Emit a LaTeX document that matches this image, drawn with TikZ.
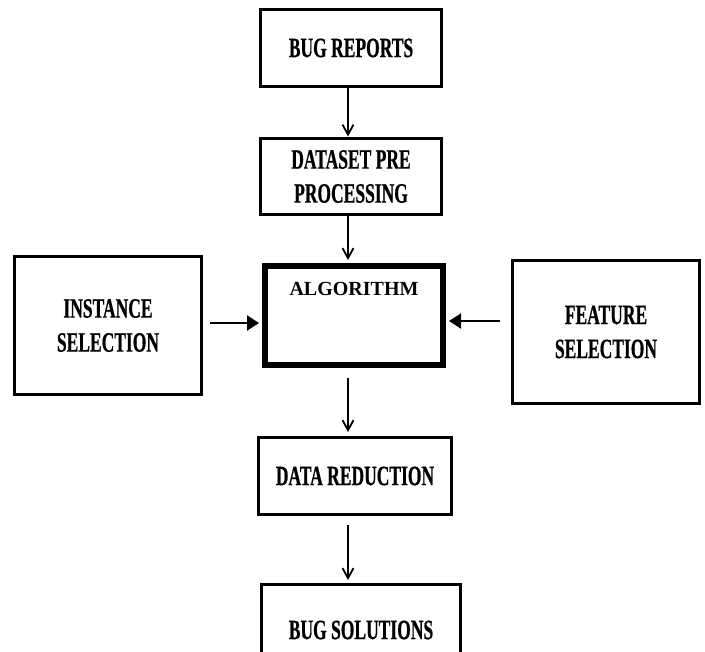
\documentclass[tikz,border=0pt]{standalone}
\usepackage{fontspec}
\setmainfont{Liberation Serif}
\newfontfamily\condfont{Liberation Serif Bold}[FakeStretch=0.625,FakeBold=0.6]
\usetikzlibrary{arrows.meta}
\tikzset{
  box/.style={draw, line width=3pt, inner sep=0pt, align=center,
    font=\condfont\fontsize{28}{34}\selectfont},
  bigbox/.style={draw, line width=6pt, inner sep=0pt},
  downarr/.style={line width=1.8pt, -{Straight Barb[length=10pt,width=11pt,line width=1.8pt]}},
  sidearr/.style={line width=2pt, -{Triangle[length=12pt,width=15pt]}}
}
\begin{document}
\begin{tikzpicture}[x=1pt,y=-1pt]
\useasboundingbox (0,0) rectangle (705,652);
\clip (0,0) rectangle (705,652);
\node[box, minimum width=181pt, minimum height=77pt] (br) at (351,48) {BUG REPORTS};
\node[box, minimum width=181pt, minimum height=76pt] (ds) at (351,176.5) {DATASET PRE\\PROCESSING};
\node[bigbox, minimum width=178pt, minimum height=99pt] (alg) at (354,315.5) {};
\node[anchor=base, font=\bfseries\fontsize{20}{24}\selectfont] (algt) at (354,296) {ALGORITHM};
\node[box, minimum width=187pt, minimum height=138pt] (ins) at (108,325.5) {INSTANCE\\SELECTION};
\node[box, minimum width=187pt, minimum height=143pt] (fea) at (606,332) {FEATURE\\SELECTION};
\node[box, minimum width=193pt, minimum height=77pt] (dr) at (355,476) {DATA REDUCTION};
\node[box, minimum width=199pt, minimum height=91pt] (bs) at (361,630) {BUG SOLUTIONS};
\draw[downarr, shorten >=0.5pt] ([xshift=-3pt]br.south) -- ([xshift=-3pt]ds.north);
\draw[downarr, shorten >=3pt] ([xshift=-3pt]ds.south) -- ([xshift=-3pt]ds.south |- alg.north);
\draw[downarr, shorten <=10pt, shorten >=4pt] ([xshift=-6pt]alg.south) -- ([xshift=-6pt]alg.south |- dr.north);
\draw[downarr, shorten <=9pt, shorten >=3pt] ([xshift=-7pt]dr.south) -- ([xshift=-7pt]dr.south |- bs.north);
\draw[sidearr, shorten <=6.5pt, shorten >=3pt] ([yshift=2.5pt]ins.east) -- ([yshift=2.5pt]ins.east -| alg.west);
\draw[sidearr, shorten <=11.5pt, shorten >=3pt] ([yshift=11pt]fea.west) -- ([yshift=11pt]fea.west -| alg.east);
\end{tikzpicture}
\end{document}
